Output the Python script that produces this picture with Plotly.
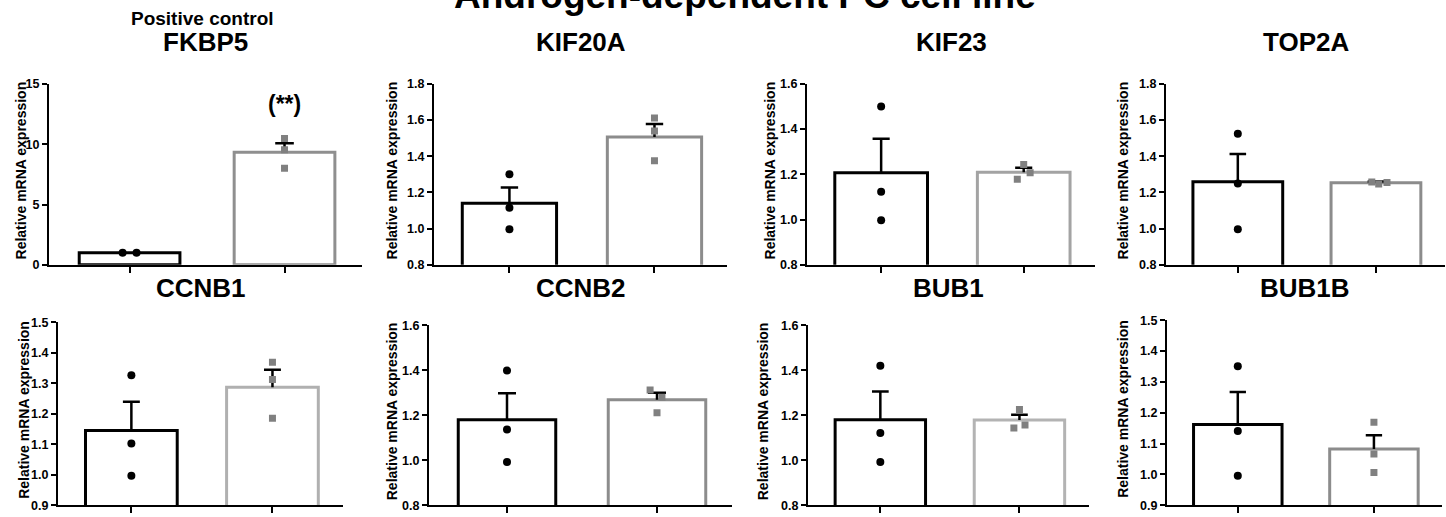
import plotly.graph_objects as go

# ---- data -----------------------------------------------------------------
genes = ["FKBP5", "KIF20A", "KIF23", "TOP2A", "CCNB1", "CCNB2", "BUB1", "BUB1B"]

ctrl_mean = [1.00, 1.140, 1.207, 1.259, 1.145, 1.179, 1.179, 1.162]
ctrl_sem = [0.00, 0.087, 0.150, 0.153, 0.094, 0.118, 0.126, 0.105]
treat_mean = [9.33, 1.506, 1.209, 1.254, 1.287, 1.268, 1.178, 1.082]
treat_sem = [0.75, 0.072, 0.020, 0.006, 0.057, 0.032, 0.024, 0.045]

ctrl_points = [
    [1.00, 1.00],
    [1.300, 1.115, 0.996],
    [1.500, 1.123, 0.997],
    [1.524, 1.250, 0.996],
    [1.326, 1.102, 0.996],
    [1.398, 1.136, 0.992],
    [1.420, 1.121, 0.992],
    [1.351, 1.141, 0.995],
]
treat_points = [
    [10.48, 9.54, 8.01],
    [1.611, 1.539, 1.375],
    [1.243, 1.207, 1.178],
    [1.258, 1.246, 1.255],
    [1.369, 1.312, 1.185],
    [1.312, 1.280, 1.211],
    [1.225, 1.156, 1.143],
    [1.169, 1.066, 1.006],
]

y_min = [0, 0.8, 0.8, 0.8, 0.9, 0.8, 0.8, 0.9]
y_max = [15, 1.8, 1.6, 1.8, 1.5, 1.6, 1.6, 1.5]
y_step = [5, 0.2, 0.2, 0.2, 0.1, 0.2, 0.2, 0.1]

significance = {0: "(**)"}
significance_y = {0: 13.3}

# ---- layout / style --------------------------------------------------------
W, H = 1446, 517
FONT = "Liberation Sans, Arial, sans-serif"

# plot frame of each panel in pixels (left, right, top, bottom)
frame_left = [49, 434, 807, 1166, 58, 429, 808, 1167]
frame_right = [362, 727, 1095, 1445, 343, 732, 1089, 1442]
frame_top = [79, 79, 79, 79, 324, 327, 327, 322]
frame_bottom = [265, 265, 265, 265, 512, 512, 512, 512]
ytitle_x = [21, 392, 770, 1123, 24, 392, 763, 1123]
title_y = [36, 36, 36, 36, 289, 289, 289, 289]

# horizontal spread of overlapping points (category units)
ctrl_offsets = [[-0.045, 0.045], [0, 0, 0], [0, 0, 0], [0, 0, 0],
                [0, 0, 0], [0, 0, 0], [0, 0, 0], [0, 0, 0]]
treat_offsets = [[0, 0, 0], [0, 0, 0], [0, 0.045, -0.045], [-0.03, 0.02, 0.08],
                 [0, 0, 0], [-0.046, 0.033, 0], [0, 0.04, -0.04], [0, 0, 0]]

treat_edge = ["#8f8f8f", "#8c8c8c", "#a3a3a3", "#8c8c8c",
              "#b0b0b0", "#8c8c8c", "#b3b3b3", "#8c8c8c"]
square_color = "#808080"
BAR_W = 0.65
CAP = 0.06
X_RANGE = [-0.52, 1.5]


def px_x(p):
    return p / W


def px_y(p):
    return 1 - p / H


def ticks(lo, hi, step):
    vals, v = [], lo
    while v <= hi + 1e-9:
        vals.append(round(v, 4))
        v += step
    return vals


fig = go.Figure()
annotations = []

for i, gene in enumerate(genes):
    n = "" if i == 0 else str(i + 1)
    xa, ya = "x" + n, "y" + n

    # bars
    fig.add_trace(go.Bar(
        x=[0], y=[ctrl_mean[i]], width=BAR_W, xaxis=xa, yaxis=ya,
        marker=dict(color="white", line=dict(color="black", width=3)),
        showlegend=False, hoverinfo="skip"))
    fig.add_trace(go.Bar(
        x=[1], y=[treat_mean[i]], width=BAR_W, xaxis=xa, yaxis=ya,
        marker=dict(color="white", line=dict(color=treat_edge[i], width=3)),
        showlegend=False, hoverinfo="skip"))

    # upper SEM whiskers
    ex, ey = [], []
    for xc, m, s in ((0, ctrl_mean[i], ctrl_sem[i]), (1, treat_mean[i], treat_sem[i])):
        if s <= 0:
            continue
        ex += [xc, xc, None, xc - CAP, xc + CAP, None]
        ey += [m, m + s, None, m + s, m + s, None]
    if ex:
        fig.add_trace(go.Scatter(
            x=ex, y=ey, mode="lines", xaxis=xa, yaxis=ya,
            line=dict(color="black", width=2.5),
            showlegend=False, hoverinfo="skip"))

    # individual replicates
    fig.add_trace(go.Scatter(
        x=[0 + o for o in ctrl_offsets[i][:len(ctrl_points[i])]],
        y=ctrl_points[i], mode="markers", xaxis=xa, yaxis=ya,
        marker=dict(symbol="circle", size=8, color="black"),
        showlegend=False, hoverinfo="skip"))
    fig.add_trace(go.Scatter(
        x=[1 + o for o in treat_offsets[i][:len(treat_points[i])]],
        y=treat_points[i], mode="markers", xaxis=xa, yaxis=ya,
        marker=dict(symbol="square", size=7, color=square_color),
        showlegend=False, hoverinfo="skip"))

    tv = ticks(y_min[i], y_max[i], y_step[i])
    fig.layout["xaxis" + n] = dict(
        domain=[px_x(frame_left[i]), px_x(frame_right[i])], anchor=ya,
        range=X_RANGE, showline=True, linecolor="black", linewidth=2,
        ticks="outside", ticklen=6, tickwidth=2, tickcolor="black",
        tickvals=[0, 1], showticklabels=False,
        showgrid=False, zeroline=False, fixedrange=True)
    fig.layout["yaxis" + n] = dict(
        domain=[px_y(frame_bottom[i]), px_y(frame_top[i])], anchor=xa,
        range=[y_min[i], y_max[i]], showline=True, linecolor="black", linewidth=2,
        ticks="outside", ticklen=5, tickwidth=2, tickcolor="black",
        tickvals=tv, ticktext=["<b>%s</b>" % (("%d" % v) if y_step[i] >= 1 else ("%.1f" % v)) for v in tv],
        tickfont=dict(family=FONT, size=12.5, color="black"),
        showgrid=False, zeroline=False, fixedrange=True)

    cx = (frame_left[i] + frame_right[i]) / 2
    annotations.append(dict(
        text="<b>%s</b>" % gene, x=px_x(cx), y=px_y(title_y[i]), xref="paper", yref="paper",
        xanchor="center", yanchor="middle", showarrow=False,
        font=dict(family=FONT, size=26, color="black")))
    annotations.append(dict(
        text="<b>Relative mRNA expression</b>", textangle=-90,
        x=px_x(ytitle_x[i]), y=px_y((frame_top[i] + frame_bottom[i]) / 2 - 4),
        xref="paper", yref="paper", xanchor="center", yanchor="middle",
        showarrow=False,
        font=dict(family=FONT, size=14, color="black")))
    if i in significance:
        annotations.append(dict(
            text="<b>%s</b>" % significance[i], x=1, y=significance_y[i], xref=xa, yref=ya,
            xanchor="center", yanchor="middle", showarrow=False,
            font=dict(family=FONT, size=23, color="black")))

annotations.append(dict(
    text="<b>Positive control</b>", x=px_x(202), y=px_y(12), xref="paper", yref="paper",
    xanchor="center", yanchor="middle", showarrow=False,
    font=dict(family=FONT, size=19, color="black")))
annotations.append(dict(
    text="<b>Androgen-dependent PC cell line</b>", x=px_x(745), y=px_y(-12),
    xref="paper", yref="paper", xanchor="center", yanchor="middle",
    showarrow=False,
    font=dict(family=FONT, size=37, color="black")))

fig.update_layout(
    width=W, height=H, margin=dict(l=0, r=0, t=0, b=0),
    paper_bgcolor="white", plot_bgcolor="white",
    barmode="overlay", annotations=annotations, showlegend=False,
    font=dict(family=FONT, color="black"))

fig.write_html("out.html", config={"displayModeBar": False})
